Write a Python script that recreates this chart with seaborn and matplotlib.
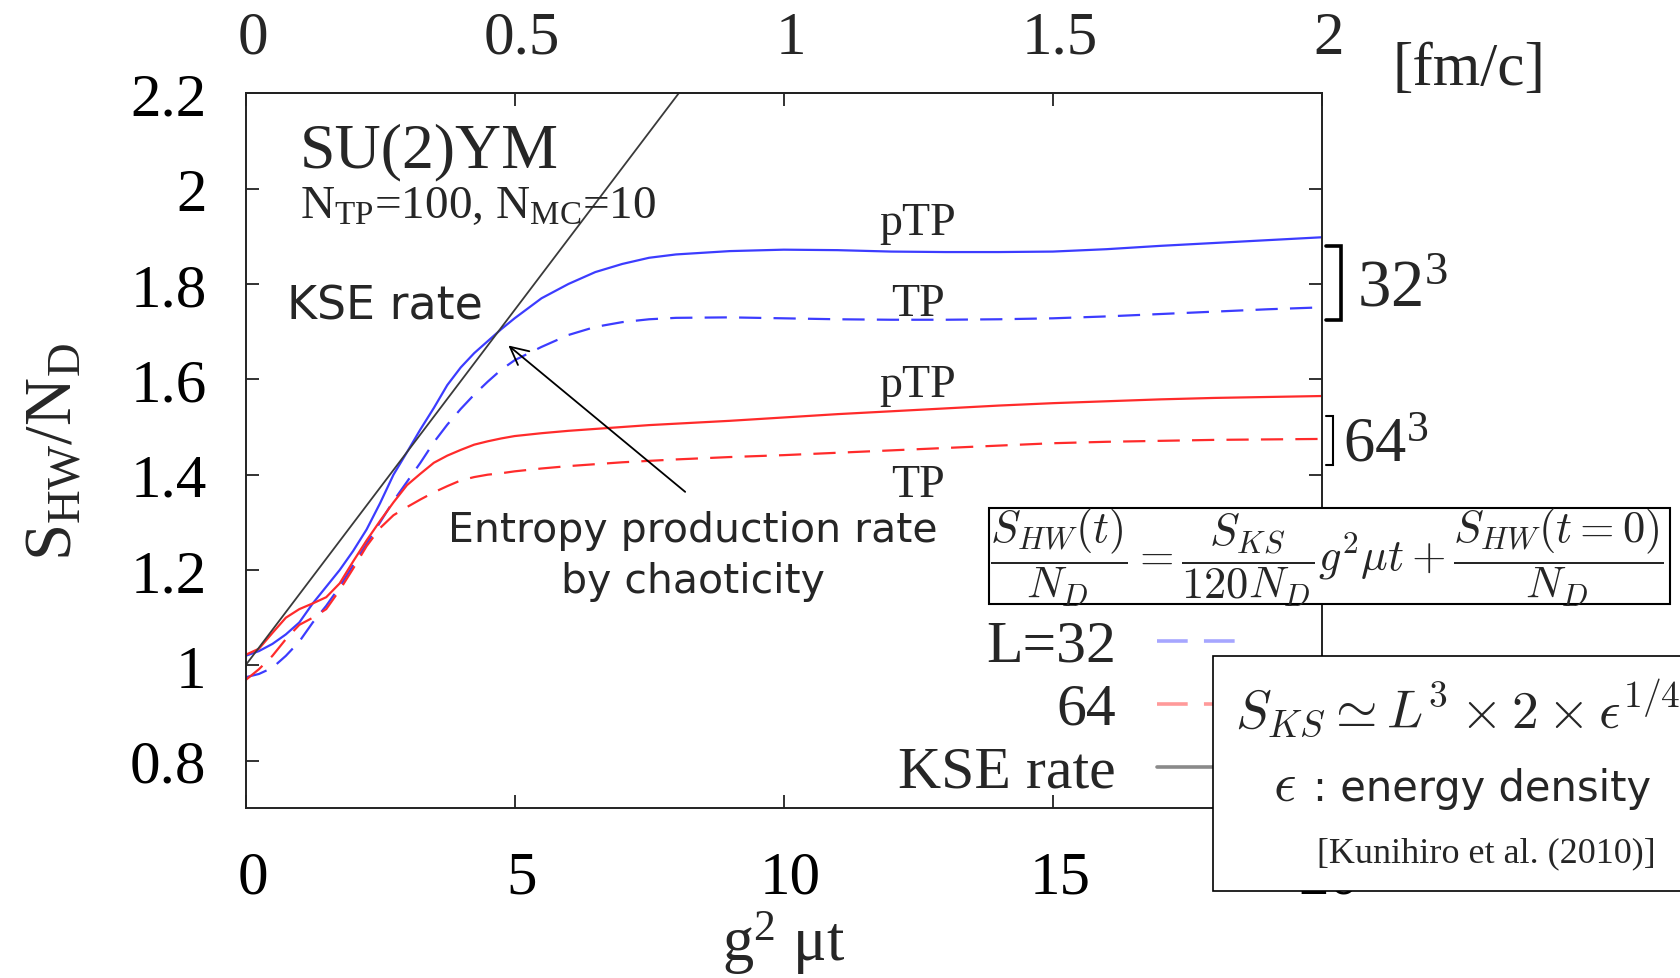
import matplotlib
matplotlib.use("Agg")
import matplotlib.pyplot as plt
import matplotlib.transforms as mtransforms
import seaborn as sns
from matplotlib.patches import Rectangle
from matplotlib.lines import Line2D
from matplotlib.ticker import FuncFormatter

# g^2 mu t
t = [0, 0.25, 0.5, 0.75, 1.0, 1.25, 1.5, 1.75, 2.0, 2.25, 2.5, 2.75, 3.0, 3.25,
     3.5, 3.75, 4.0, 4.25, 4.5, 4.75, 5.0, 5.5, 6.0, 6.5, 7.0, 7.5, 8.0, 9.0,
     10, 11, 12, 13, 14, 15, 16, 17, 18, 19, 20]

# S_HW / N_D, L = 32
s32_ptp = [1.020, 1.030, 1.045, 1.065, 1.090, 1.130, 1.165, 1.200, 1.240, 1.285,
           1.340, 1.400, 1.447, 1.495, 1.540, 1.588, 1.625, 1.655, 1.680, 1.705,
           1.728, 1.770, 1.800, 1.825, 1.842, 1.855, 1.862, 1.869, 1.872, 1.871,
           1.868, 1.867, 1.867, 1.868, 1.873, 1.880, 1.886, 1.892, 1.898]
s32_tp = [0.975, 0.982, 0.995, 1.020, 1.050, 1.090, 1.125, 1.165, 1.210, 1.255,
          1.300, 1.345, 1.385, 1.425, 1.468, 1.505, 1.538, 1.568, 1.595, 1.620,
          1.640, 1.668, 1.693, 1.710, 1.720, 1.726, 1.729, 1.730, 1.728, 1.726,
          1.725, 1.725, 1.726, 1.728, 1.732, 1.737, 1.742, 1.747, 1.751]

# S_HW / N_D, L = 64
s64_ptp = [1.022, 1.035, 1.068, 1.100, 1.118, 1.130, 1.143, 1.172, 1.218, 1.262,
           1.303, 1.342, 1.378, 1.402, 1.425, 1.440, 1.452, 1.463, 1.470, 1.476,
           1.481, 1.487, 1.492, 1.496, 1.500, 1.504, 1.507, 1.513, 1.520, 1.527,
           1.533, 1.539, 1.545, 1.550, 1.554, 1.558, 1.561, 1.563, 1.565]
s64_tp = [0.969, 0.992, 1.020, 1.055, 1.085, 1.100, 1.118, 1.158, 1.203, 1.250,
          1.288, 1.315, 1.332, 1.348, 1.363, 1.376, 1.388, 1.395, 1.400, 1.403,
          1.407, 1.413, 1.418, 1.422, 1.426, 1.429, 1.432, 1.437, 1.441, 1.446,
          1.451, 1.456, 1.461, 1.466, 1.469, 1.471, 1.473, 1.474, 1.475]

# Kolmogorov-Sinai entropy rate line
kse_t = [0.0, 8.05]
kse_s = [1.0, 2.2]

x_ticks = [0, 5, 10, 15, 20]
y_ticks = [0.8, 1.0, 1.2, 1.4, 1.6, 1.8, 2.0, 2.2]
fm_ticks = [0, 0.5, 1, 1.5, 2]
legend_labels = ["L=32", "64", "KSE rate"]

BLUE = "#3c3cff"
RED = "#ff2b2b"
KSE = "#3a3a3a"
DASH = (0, (10, 5.5))

sns.set_theme(style="white")
plt.rcParams.update({
    "font.family": ["Liberation Serif", "DejaVu Serif"],
    "mathtext.fontset": "custom",
    "mathtext.rm": "Liberation Serif",
    "mathtext.it": "Liberation Serif:italic",
    "mathtext.bf": "Liberation Serif:bold",
    "axes.edgecolor": "#222222",
    "axes.linewidth": 1.4,
})

W, H = 1681, 979
fig = plt.figure(figsize=(W / 100, H / 100), dpi=100)


def P(x, y):
    return (x / W, 1 - y / H)


ax = fig.add_axes([245.5 / W, 1 - 809.4 / H, 1076.3 / W, 715.1 / H])

sns.lineplot(x=t, y=s32_ptp, ax=ax, color=BLUE, lw=1.6, estimator=None)
sns.lineplot(x=t, y=s32_tp, ax=ax, color=BLUE, lw=1.6, linestyle=DASH, estimator=None)
sns.lineplot(x=t, y=s64_ptp, ax=ax, color=RED, lw=1.6, estimator=None)
sns.lineplot(x=t, y=s64_tp, ax=ax, color=RED, lw=1.6, linestyle=DASH, estimator=None)
sns.lineplot(x=kse_t, y=kse_s, ax=ax, color=KSE, lw=1.3, estimator=None)

ax.set_xlim(0, 20)
ax.set_ylim(0.7, 2.2)
ax.set_xticks(x_ticks)
ax.set_yticks(y_ticks)
fmt = FuncFormatter(lambda v, p: f"{v:g}")
ax.xaxis.set_major_formatter(fmt)
ax.yaxis.set_major_formatter(fmt)
ax.tick_params(axis="both", direction="in", length=9.5, width=1.3,
               color="#222222", labelsize=44, labelcolor="black")
ax.tick_params(axis="y", left=True, right=True, labelright=False, pad=28)
ax.tick_params(axis="x", bottom=True, top=False, pad=30)

sec = ax.secondary_xaxis("top", functions=(lambda x: x / 10, lambda x: x * 10))
sec.set_xticks(fm_ticks)
sec.xaxis.set_major_formatter(fmt)
sec.tick_params(axis="x", direction="in", top=True, length=9.5, width=1.3,
                color="#222222", labelsize=44, pad=20)

# the x tick labels sit slightly right of their ticks
shift = mtransforms.ScaledTranslation(0.07, 0, fig.dpi_scale_trans)
for lab in ax.get_xticklabels() + sec.get_xticklabels():
    lab.set_transform(lab.get_transform() + shift)

ax.set_xlabel("g$^{2}$ μt", fontsize=45, labelpad=2)
ax.set_ylabel("S$_{\\rm HW}$/N$_{\\rm D}$", fontsize=48)
ax.yaxis.set_label_coords(-0.150, 0.5)

fig.text(*P(1469, 70), "[fm/c]", fontsize=44, ha="center", va="center")

# in-plot annotations (axes fraction)
def A(x, y):
    return ((x - 245.5) / 1076.3, (809.4 - y) / 715.1)

ax.text(*A(300, 167), "SU(2)YM", transform=ax.transAxes, fontsize=46,
        ha="left", va="baseline")
ax.text(*A(300, 218), "N$_{\\rm TP}$=100, N$_{\\rm MC}$=10", transform=ax.transAxes,
        fontsize=34, ha="left", va="baseline")
ax.text(*A(287, 320), "KSE rate", transform=ax.transAxes, fontsize=33,
        family="DejaVu Sans", ha="left", va="baseline")
ax.text(*A(693, 542), "Entropy production rate", transform=ax.transAxes,
        fontsize=29.5, family="DejaVu Sans", ha="center", va="baseline")
ax.text(*A(693, 593), "by chaoticity", transform=ax.transAxes,
        fontsize=29.5, family="DejaVu Sans", ha="center", va="baseline")

for label, ypx in [("pTP", 235), ("TP", 316), ("pTP", 397), ("TP", 497)]:
    ax.text(*A(918, ypx), label, transform=ax.transAxes, fontsize=33,
            ha="center", va="baseline")

ax.annotate("", xy=(4.885, 1.671), xytext=(8.17, 1.364),
            arrowprops=dict(arrowstyle="->", lw=1.3, color="black",
                            mutation_scale=32, shrinkA=0, shrinkB=0))

# size brackets on the right
def bracket(x, y0, y1, stub, lw):
    xs = [x - stub, x, x, x - stub]
    ys = [y0, y0, y1, y1]
    fig.add_artist(Line2D([v / W for v in xs], [1 - v / H for v in ys],
                          transform=fig.transFigure, color="black", lw=lw,
                          solid_joinstyle="miter"))

bracket(1341, 247, 321, 15, 2.6)
fig.text(*P(1357, 307), "32$^{3}$", fontsize=48, ha="left", va="baseline")
bracket(1333, 417, 466, 7, 1.5)
fig.text(*P(1343, 462), "64$^{3}$", fontsize=45, ha="left", va="baseline")

# legend
leg_styles = [(DASH, 641.7, "#a6a6ff"), (DASH, 705, "#ff9a9a"),
              ("-", 768.3, "#8a8a8a")]
for label, (ls, ypx, lc), base in zip(legend_labels, leg_styles, [662, 725, 788]):
    fig.text(*P(1116, base), label, fontsize=43, ha="right", va="baseline")
    fig.add_artist(Line2D([1157 / W, 1246 / W], [1 - ypx / H] * 2,
                          transform=fig.transFigure, color=lc, lw=2.6,
                          linestyle=ls if ls == "-" else (0, (8.5, 4.5))))

# formula box
fig.add_artist(Rectangle(P(989, 605), (1670 - 989) / W, (605 - 509) / H,
                         transform=fig.transFigure, facecolor="white",
                         edgecolor="black", lw=1.5, zorder=5))
fig.text(*P(1327, 558),
         r"$\dfrac{S_{HW}(t)}{N_D} = \dfrac{S_{KS}}{120N_D}g^2\mu t + \dfrac{S_{HW}(t=0)}{N_D}$",
         fontsize=32, ha="center", va="center", math_fontfamily="cm", zorder=6)

# KS entropy box
fig.add_artist(Rectangle(P(1212.8, 892), (1720 - 1212.8) / W, (892 - 657) / H,
                         transform=fig.transFigure, facecolor="white",
                         edgecolor="black", lw=1.2, zorder=5))
fig.text(*P(1235, 727), r"$S_{KS} \simeq L^3 \times 2 \times \epsilon^{1/4}$",
         fontsize=38.5, ha="left", va="baseline", math_fontfamily="cm", zorder=6)
fig.text(*P(1273, 801), r"$\epsilon$", fontsize=40, math_fontfamily="cm",
         ha="left", va="baseline", zorder=6)
fig.text(*P(1313, 801), ": energy density", fontsize=30,
         family="DejaVu Sans", ha="left", va="baseline", zorder=6)
fig.text(*P(1317, 862), "[Kunihiro et al. (2010)]", fontsize=26,
         ha="left", va="baseline", zorder=6)

fig.savefig("out.png", dpi=100, facecolor="white")
